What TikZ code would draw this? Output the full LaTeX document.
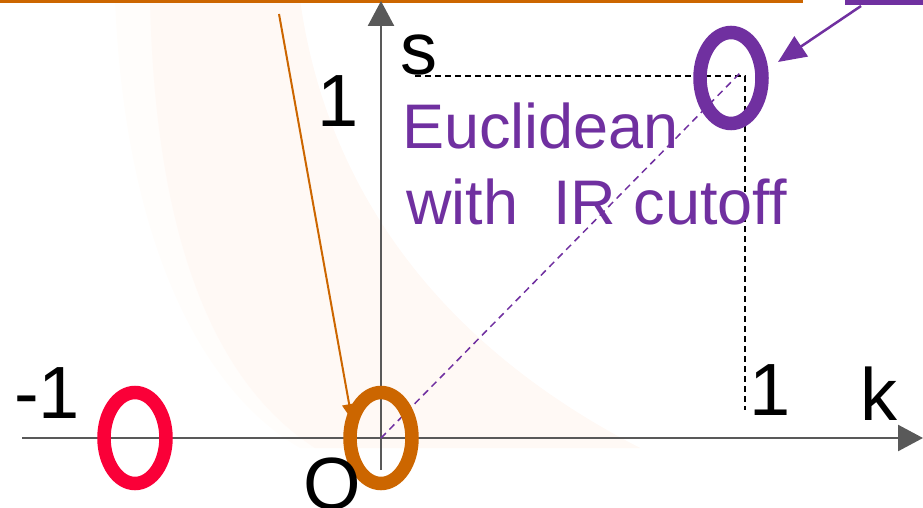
\documentclass[tikz,border=0pt]{standalone}
\usepackage{fontspec}
\setmainfont{Liberation Sans}
\usetikzlibrary{arrows.meta,shapes.geometric}
\definecolor{axisgray}{HTML}{595959}
\definecolor{myorange}{HTML}{CC6600}
\definecolor{mypurple}{HTML}{7030A0}
\definecolor{myred}{HTML}{FA0038}
\definecolor{faint}{HTML}{FFF9F5}
\definecolor{fainter}{HTML}{FFFDFB}
\tikzset{
  axis/.style={draw=axisgray, line width=2.5pt, -{Triangle[length=25pt,width=26pt]}},
  ring/.style={ellipse, draw, line width=13.5pt, minimum width=62pt, minimum height=91pt, inner sep=0pt},
  bigtxt/.style={anchor=base west, inner sep=0pt, font=\fontsize{74}{80}\selectfont},
  purtxt/.style={anchor=base west, inner sep=0pt, text=mypurple, font=\fontsize{63}{76}\selectfont},
  guide/.style={draw=black, line width=1.5pt, dash pattern=on 6pt off 4pt},
}
\begin{document}
\begin{tikzpicture}[x=1pt,y=-1pt]
\useasboundingbox (0,0) rectangle (923,508);
% faint background bands
\fill[fainter] (115,0) .. controls (125,240) and (200,390) .. (300,448)
  -- (640,448) .. controls (430,340) and (325,180) .. (300,0) -- cycle;
\fill[faint] (150,0) .. controls (155,230) and (210,380) .. (315,448)
  -- (640,448) .. controls (430,340) and (325,180) .. (300,0) -- cycle;
% top orange line and purple box
\draw[myorange, line width=3pt] (0,2) -- (803,2);
\node[fill=mypurple, inner sep=0pt, minimum width=78pt, minimum height=10pt, anchor=south west] (pbox) at (845,5) {};
% axes
\coordinate (O) at (381,438);
\coordinate (ybot) at (381,470);
\coordinate (ytop) at (381,1);
\coordinate (xl) at (22,438);
\coordinate (xr) at (923,438);
\draw[axis] (ybot) -- (ytop);
\draw[axis] (xl) -- (xr);
% guide lines
\coordinate (P) at (745,76);
\coordinate (Ps) at (415,76);
\coordinate (Pk) at (745,410);
\draw[guide] (Ps) -- (P) -- (Pk);
\draw[mypurple, line width=1.5pt, dash pattern=on 7pt off 5pt] (O) -- (741,72);
% rings
\node[ring, draw=myred] (red) at (135,438) {};
\node[ring, draw=myorange] (ora) at (381,438) {};
\node[ring, draw=mypurple] (pur) at (731,78) {};
% arrows
\coordinate (ostart) at (279,14);
\coordinate (oend) at (352,420);
\draw[myorange, line width=2pt, -{Triangle[length=16pt,width=14pt]}] (ostart) -- (oend);
\coordinate (pst) at (861,6);
\coordinate (pend) at (778,62);
\draw[mypurple, line width=2.5pt, -{Triangle[length=28pt,width=24pt]}] (pst) -- (pend);
% labels
\node[bigtxt] (s) at (400,75) {s};
\node[bigtxt] (one) at (317,127) {1};
\node[bigtxt] (mone) at (14,418) {-1};
\node[bigtxt] (onek) at (749,415) {1};
\node[bigtxt] (k) at (860,420) {k};
\node[bigtxt] (orig) at (303,509) {O};
\node[purtxt] (euc1) at (402,148) {Euclidean};
\node[purtxt] (euc2) at (406,224) {with\ \ IR cutoff};
\end{tikzpicture}
\end{document}
